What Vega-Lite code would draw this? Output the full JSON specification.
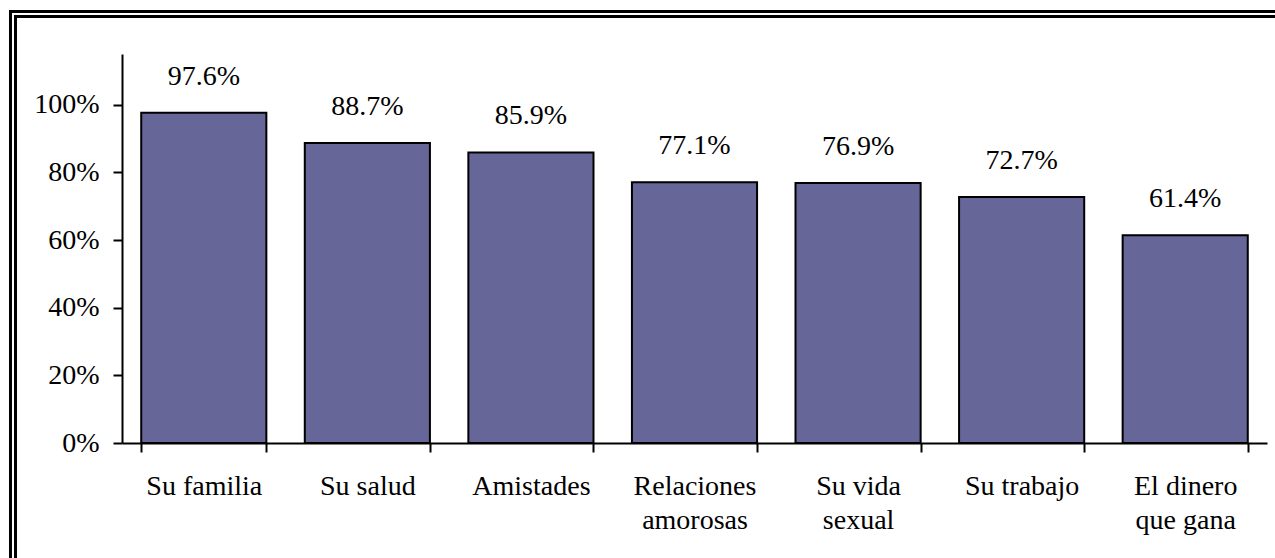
{
  "$schema": "https://vega.github.io/schema/vega-lite/v6.json",
  "width": 1145,
  "height": 389,
  "autosize": {"type": "none"},
  "padding": {"left": 122, "top": 54, "right": 8, "bottom": 115},
  "background": "white",
  "config": {"view": {"stroke": null}, "font": "Times New Roman, Liberation Serif, serif"},
  "data": {
    "values": [
      {"categoria": "Su familia", "valor": 0.976},
      {"categoria": "Su salud", "valor": 0.887},
      {"categoria": "Amistades", "valor": 0.859},
      {"categoria": "Relaciones amorosas", "valor": 0.771},
      {"categoria": "Su vida sexual", "valor": 0.769},
      {"categoria": "Su trabajo", "valor": 0.727},
      {"categoria": "El dinero que gana", "valor": 0.614}
    ]
  },
  "layer": [
    {
      "data": {"values": [{}]},
      "mark": {"type": "rect", "filled": false, "stroke": "#000000", "strokeWidth": 8},
      "encoding": {
        "x": {"datum": -0.0952, "type": "quantitative", "scale": {"domain": [0, 1]}, "axis": null},
        "x2": {"datum": 1.05},
        "y": {"datum": 1.1028, "type": "quantitative", "scale": {"domain": [0, 1]}, "axis": null},
        "y2": {"datum": -0.5}
      }
    },
    {
      "data": {"values": [{}]},
      "mark": {"type": "rect", "filled": false, "stroke": "#ffffff", "strokeWidth": 2},
      "encoding": {
        "x": {"datum": -0.0952, "type": "quantitative", "scale": {"domain": [0, 1]}, "axis": null},
        "x2": {"datum": 1.05},
        "y": {"datum": 1.1028, "type": "quantitative", "scale": {"domain": [0, 1]}, "axis": null},
        "y2": {"datum": -0.5}
      }
    },
    {
      "encoding": {
        "x": {
          "field": "categoria",
          "type": "nominal",
          "sort": null,
          "scale": {"paddingInner": 0.235, "paddingOuter": 0.1175},
          "axis": {
            "title": null,
            "labelAngle": 0,
            "labelFont": "Times New Roman, Liberation Serif, serif",
            "labelFontSize": 28,
            "labelColor": "#000000",
            "labelLineHeight": 34,
            "labelLimit": 400,
            "labelPadding": 20,
            "domainColor": "#000000",
            "domainWidth": 2,
            "tickColor": "#000000",
            "tickWidth": 2,
            "tickSize": 9,
            "tickBand": "extent",
            "labelExpr": "datum.label == 'Relaciones amorosas' ? ['Relaciones', 'amorosas'] : datum.label == 'Su vida sexual' ? ['Su vida', 'sexual'] : datum.label == 'El dinero que gana' ? ['El dinero', 'que gana'] : datum.label"
          }
        },
        "y": {
          "field": "valor",
          "type": "quantitative",
          "scale": {"domain": [0, 1.15], "nice": false},
          "axis": {
            "title": null,
            "values": [0, 0.2, 0.4, 0.6, 0.8, 1],
            "format": "%",
            "grid": false,
            "labelFont": "Times New Roman, Liberation Serif, serif",
            "labelFontSize": 28,
            "labelColor": "#000000",
            "labelPadding": 14,
            "domainColor": "#000000",
            "domainWidth": 2,
            "tickColor": "#000000",
            "tickWidth": 2,
            "tickSize": 9
          }
        }
      },
      "layer": [
        {"mark": {"type": "bar", "fill": "#666699", "stroke": "#000000", "strokeWidth": 2}},
        {
          "mark": {"type": "text", "font": "Times New Roman, Liberation Serif, serif", "fontSize": 28, "color": "#000000", "baseline": "alphabetic", "dy": -28},
          "encoding": {"text": {"field": "valor", "type": "quantitative", "format": ".1%"}}
        }
      ]
    }
  ],
  "resolve": {"scale": {"x": "independent", "y": "independent"}, "axis": {"x": "independent", "y": "independent"}}
}
